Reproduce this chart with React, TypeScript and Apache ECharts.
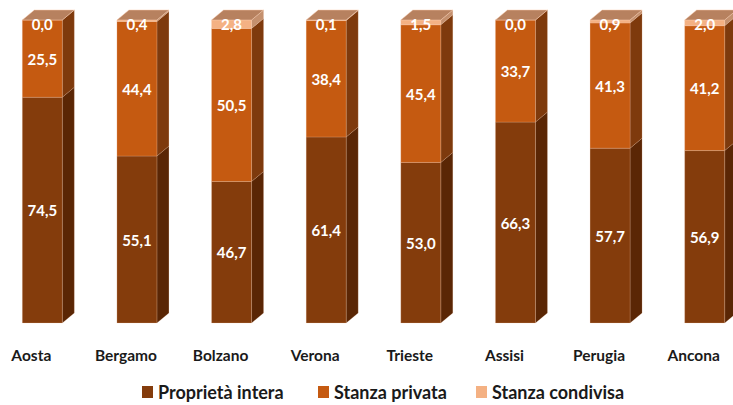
import React, { useEffect, useRef } from "react";
import * as echarts from "echarts";

const categories = ["Aosta", "Bergamo", "Bolzano", "Verona", "Trieste", "Assisi", "Perugia", "Ancona"];
const proprietaIntera = [74.5, 55.1, 46.7, 61.4, 53.0, 66.3, 57.7, 56.9];
const stanzaPrivata = [25.5, 44.4, 50.5, 38.4, 45.4, 33.7, 41.3, 41.2];
const stanzaCondivisa = [0.0, 0.4, 2.8, 0.1, 1.5, 0.0, 0.9, 2.0];
const seriesNames = ["Proprietà intera", "Stanza privata", "Stanza condivisa"];

const FONT = "Lato, 'Open Sans', sans-serif";
const frontColors = ["#843C0C", "#C55A11", "#F4B183"];
const sideColors = ["#5A2605", "#7E3A0D", "#C4906E"];
const topColor = "#B7815F";

const fmt = (v: number) => v.toFixed(1).replace(".", ",");

const SHIFT = 16;
const legendLefts = [142, 318, 476];

export default function App() {
  const ref = useRef<HTMLDivElement>(null);
  useEffect(() => {
    if (!ref.current) return;
    const chart = echarts.init(ref.current, undefined, { renderer: "svg" });
    const all = [proprietaIntera, stanzaPrivata, stanzaCondivisa];
    const series = all.map((vals, k) => {
      const data = vals.map((v, i) => {
        let base = 0;
        for (let j = 0; j < k; j++) base += all[j][i];
        return [i, base, base + v, v];
      });
      return {
        type: "custom",
        name: seriesNames[k],
        itemStyle: { color: frontColors[k] },
        data,
        renderItem: (params: any, api: any) => {
          const ci = api.value(0);
          const base = api.value(1);
          let top = api.value(2);
          const v = api.value(3);
          if (k === 2) top = 100;
          const pB = api.coord([ci, base]);
          const pT = api.coord([ci, top]);
          const w = 40;
          const dx = 12;
          const dy = 10;
          const x0 = pB[0] - 9;
          const children: any[] = [];
          children.push({
            type: "polygon",
            shape: {
              points: [
                [x0 + w, pT[1]],
                [x0 + w + dx, pT[1] - dy],
                [x0 + w + dx, pB[1] - dy],
                [x0 + w, pB[1]],
              ],
            },
            style: { fill: sideColors[k], stroke: "rgba(248,203,173,0.35)", lineWidth: 0.5 },
          });
          children.push({
            type: "rect",
            shape: { x: x0, y: pT[1], width: w, height: pB[1] - pT[1] },
            style: { fill: frontColors[k], stroke: "rgba(248,203,173,0.45)", lineWidth: 0.5 },
          });
          if (k === 2) {
            children.push({
              type: "polygon",
              shape: {
                points: [
                  [x0, pT[1]],
                  [x0 + w, pT[1]],
                  [x0 + w + dx, pT[1] - dy],
                  [x0 + dx, pT[1] - dy],
                ],
              },
              style: { fill: topColor, stroke: "rgba(248,203,173,0.8)", lineWidth: 0.6 },
            });
          }
          const ly = k === 2 ? pT[1] + 4 : (pB[1] + pT[1]) / 2;
          children.push({
            type: "text",
            style: {
              text: fmt(v),
              x: x0 + w / 2,
              y: ly,
              fill: "#ffffff",
              font: `bold 15px ${FONT}`,
              align: "center",
              verticalAlign: "middle",
            },
          });
          return { type: "group", children };
        },
      };
    });
    chart.setOption({
      animation: false,
      grid: { left: 0, right: 0, top: 20, bottom: 82 },
      legend: seriesNames.map((name, k) => ({
        left: legendLefts[k] + SHIFT,
        top: 383,
        icon: "rect",
        itemWidth: 11,
        itemHeight: 12,
        itemGap: 0,
        padding: 0,
        textStyle: { fontFamily: FONT, fontWeight: "bold", fontSize: 18, color: "#1a1a1a" },
        data: [name],
      })),
      xAxis: {
        type: "category",
        data: categories,
        axisLine: { show: false },
        axisTick: { show: false },
        axisLabel: {
          margin: 24,
          fontFamily: FONT,
          fontWeight: "bold",
          fontSize: 15.5,
          color: "#1a1a1a",
          interval: 0,
        },
      },
      yAxis: { type: "value", min: 0, max: 100, show: false },
      series,
    });
    return () => chart.dispose();
  }, []);
  return (
    <div style={{ position: "absolute", left: 0, top: 0, width: 733, height: 405, overflow: "hidden" }}>
      <div ref={ref} style={{ position: "absolute", left: -SHIFT, top: 0, width: 757, height: 405 }} />
    </div>
  );
}
